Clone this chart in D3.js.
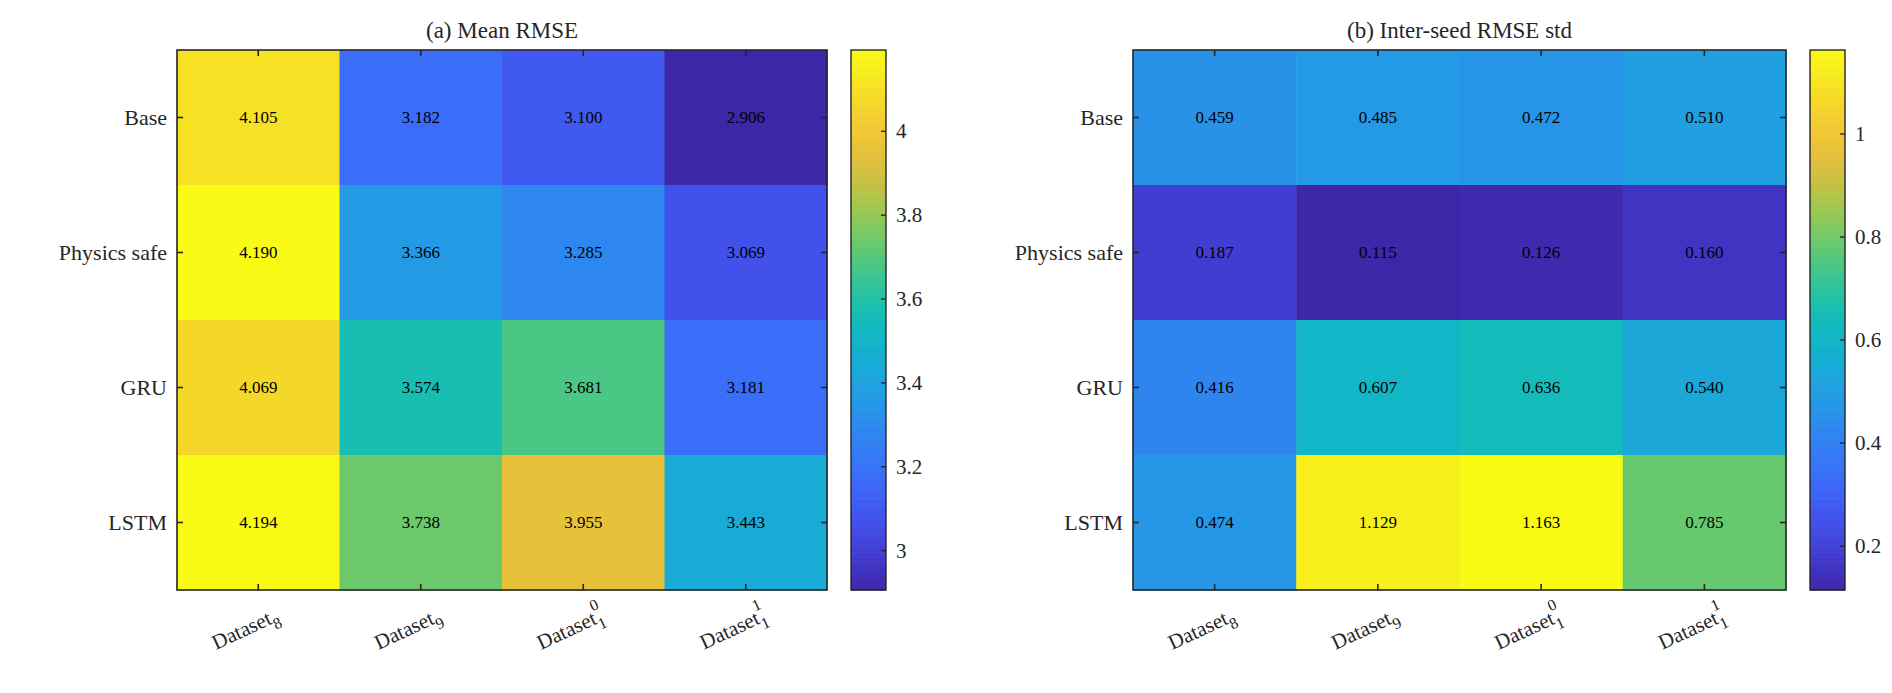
<!DOCTYPE html>
<html>
<head>
<meta charset="utf-8">
<script src="https://cdn.jsdelivr.net/npm/d3@7"></script>
<style>
  body { margin: 0; background: #fff; }
  svg text { font-family: "Liberation Serif", "Times New Roman", serif; fill: #262626; }
</style>
</head>
<body>
<svg id="chart" width="1892" height="693"></svg>
<script>
const models = ['Base', 'Physics safe', 'GRU', 'LSTM'];
const datasets = [
  { main: 'Dataset', sub: '8', sup: '' },
  { main: 'Dataset', sub: '9', sup: '' },
  { main: 'Dataset', sub: '1', sup: '0' },
  { main: 'Dataset', sub: '1', sup: '1' }
];
const meanRmse = [
  [4.105, 3.182, 3.100, 2.906],
  [4.190, 3.366, 3.285, 3.069],
  [4.069, 3.574, 3.681, 3.181],
  [4.194, 3.738, 3.955, 3.443]
];
const stdRmse = [
  [0.459, 0.485, 0.472, 0.510],
  [0.187, 0.115, 0.126, 0.160],
  [0.416, 0.607, 0.636, 0.540],
  [0.474, 1.129, 1.163, 0.785]
];
const meanTicks = [3, 3.2, 3.4, 3.6, 3.8, 4];
const stdTicks = [0.2, 0.4, 0.6, 0.8, 1];

// parula-like colour stops
const parulaStops = ['#3e26a8', '#4547e6', '#3d6bfe', '#2d88ef', '#1da9dc', '#06bcbf',
                     '#45c985', '#98ca4c', '#eeb83c', '#f6d52c', '#f9fb15'];
const parula = d3.interpolateRgbBasis(parulaStops);

const svg = d3.select('#chart');
const plotTop = 50, plotBottom = 590;

function panel(opts) {
  const { left, right, data, ticks, title, cbLeft, fmtTick } = opts;
  const flat = data.flat();
  const lo = d3.min(flat), hi = d3.max(flat);
  const color = v => parula((v - lo) / (hi - lo));

  const x = d3.scaleBand().domain(d3.range(datasets.length)).range([left, right]);
  const y = d3.scaleBand().domain(models).range([plotTop, plotBottom]);
  const g = svg.append('g');

  data.forEach((row, i) => row.forEach((v, j) => {
    g.append('rect')
      .attr('x', x(j)).attr('y', y(models[i]))
      .attr('width', x.bandwidth() + 0.5).attr('height', y.bandwidth() + 0.5)
      .attr('fill', color(v));
    g.append('text')
      .attr('x', x(j) + x.bandwidth() / 2).attr('y', y(models[i]) + y.bandwidth() / 2)
      .attr('text-anchor', 'middle').attr('dominant-baseline', 'central')
      .style('font-size', '17px').style('fill', '#000')
      .text(v.toFixed(3));
  }));

  // box + inward ticks
  g.append('rect').attr('x', left).attr('y', plotTop)
    .attr('width', right - left).attr('height', plotBottom - plotTop)
    .attr('fill', 'none').attr('stroke', '#262626').attr('stroke-width', 1.6);
  const tk = 6;
  x.domain().forEach(j => {
    const cx = x(j) + x.bandwidth() / 2;
    g.append('line').attr('x1', cx).attr('x2', cx).attr('y1', plotBottom).attr('y2', plotBottom - tk)
      .attr('stroke', '#262626').attr('stroke-width', 1.6);
    g.append('line').attr('x1', cx).attr('x2', cx).attr('y1', plotTop).attr('y2', plotTop + tk)
      .attr('stroke', '#262626').attr('stroke-width', 1.6);
    const d = datasets[j];
    const t = g.append('text')
      .attr('transform', `translate(${cx + 22},${plotBottom + 30}) rotate(-25)`)
      .attr('text-anchor', 'end').style('font-size', '21px');
    t.append('tspan').text(d.main);
    t.append('tspan').attr('dy', 7).style('font-size', '16px').text(d.sub);
    if (d.sup) {
      t.append('tspan').attr('dx', -8).attr('dy', -20).style('font-size', '16px').text(d.sup);
    }
  });
  models.forEach(m => {
    const cy = y(m) + y.bandwidth() / 2;
    g.append('line').attr('x1', left).attr('x2', left + tk).attr('y1', cy).attr('y2', cy)
      .attr('stroke', '#262626').attr('stroke-width', 1.6);
    g.append('line').attr('x1', right).attr('x2', right - tk).attr('y1', cy).attr('y2', cy)
      .attr('stroke', '#262626').attr('stroke-width', 1.6);
    g.append('text').attr('x', left - 10).attr('y', cy)
      .attr('text-anchor', 'end').attr('dominant-baseline', 'central')
      .style('font-size', '22px').text(m);
  });

  g.append('text').attr('x', (left + right) / 2).attr('y', plotTop - 12)
    .attr('text-anchor', 'middle').style('font-size', '23px').text(title);

  // colorbar
  const cbW = 35;
  const cy = d3.scaleLinear().domain([lo, hi]).range([plotBottom, plotTop]);
  const steps = 200;
  d3.range(steps).forEach(k => {
    const v0 = lo + (hi - lo) * k / steps, v1 = lo + (hi - lo) * (k + 1) / steps;
    g.append('rect').attr('x', cbLeft).attr('y', cy(v1))
      .attr('width', cbW).attr('height', cy(v0) - cy(v1) + 0.6)
      .attr('fill', color((v0 + v1) / 2));
  });
  g.append('rect').attr('x', cbLeft).attr('y', plotTop).attr('width', cbW).attr('height', plotBottom - plotTop)
    .attr('fill', 'none').attr('stroke', '#262626').attr('stroke-width', 1.4);
  ticks.forEach(t => {
    g.append('line').attr('x1', cbLeft + cbW).attr('x2', cbLeft + cbW - 5)
      .attr('y1', cy(t)).attr('y2', cy(t)).attr('stroke', '#262626').attr('stroke-width', 1.4);
    g.append('text').attr('x', cbLeft + cbW + 10).attr('y', cy(t))
      .attr('dominant-baseline', 'central').style('font-size', '21px').text(fmtTick(t));
  });
}

panel({ left: 177, right: 827, data: meanRmse, ticks: meanTicks,
        title: '(a) Mean RMSE', cbLeft: 851, fmtTick: d3.format('~g') });
panel({ left: 1133, right: 1786, data: stdRmse, ticks: stdTicks,
        title: '(b) Inter-seed RMSE std', cbLeft: 1810, fmtTick: d3.format('~g') });
</script>
</body>
</html>
